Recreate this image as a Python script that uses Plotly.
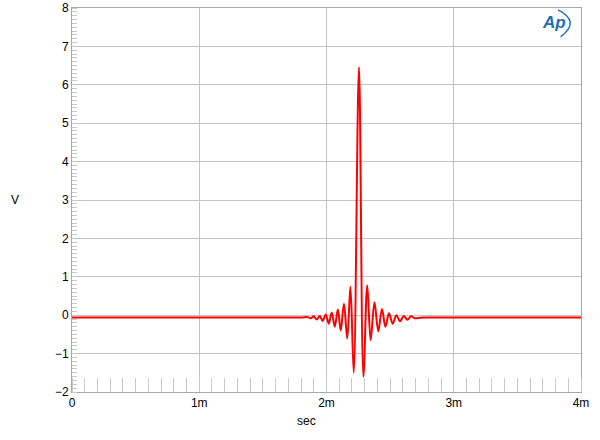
import plotly.graph_objects as go

# Time (ms) and voltage (V): flat baseline, then the ringing impulse
t_ms = [0.0, 0.6, 1.2, 1.6, 1.80, 1.853, 1.876, 1.900, 1.923, 1.947, 1.970, 1.994, 2.018, 2.041, 2.065,
        2.089, 2.112, 2.137, 2.163, 2.188, 2.214, 2.255, 2.290, 2.320, 2.347, 2.377,
        2.407, 2.436, 2.463, 2.491, 2.520, 2.549, 2.578, 2.607, 2.636, 2.665, 2.695, 2.75,
        2.9, 3.3, 3.7, 4.0]
volts = [-0.06, -0.06, -0.06, -0.06, -0.06, -0.05, -0.08, -0.03, -0.11, -0.02, -0.15, 0.02, -0.22, 0.07, -0.30,
         0.15, -0.40, 0.30, -0.61, 0.75, -1.50, 6.46, -1.60, 0.78, -0.65, 0.34,
         -0.42, 0.16, -0.30, 0.05, -0.22, 0.00, -0.16, -0.02, -0.12, -0.03, -0.08, -0.06,
         -0.06, -0.06, -0.06, -0.06]

x_tick_vals = [0, 1, 2, 3, 4]
x_tick_text = ["0", "1m", "2m", "3m", "4m"]
y_tick_vals = [-2, -1, 0, 1, 2, 3, 4, 5, 6, 7, 8]

fig = go.Figure()
fig.add_trace(go.Scatter(x=t_ms, y=volts, mode="lines",
                         line=dict(color="#ff0000", width=2, shape="spline", smoothing=1.0),
                         hoverinfo="skip", showlegend=False))

font = dict(family="Liberation Sans, Arial, sans-serif", size=12, color="#000000")

fig.update_layout(
    width=600, height=440,
    margin=dict(l=72, r=19, t=8, b=48, autoexpand=False),
    paper_bgcolor="white", plot_bgcolor="white",
    font=font,
    xaxis=dict(range=[0, 4], tickvals=x_tick_vals, ticktext=x_tick_text,
               showgrid=True, gridcolor="#c4c4c4", gridwidth=1,
               showline=True, linecolor="#a8a8a8", linewidth=1, mirror=True,
               ticks="", zeroline=False, tickfont=font, automargin=False,
               minor=dict(dtick=0.1, tick0=0, ticks="inside", ticklen=14,
                          tickcolor="#c8c8c8", tickwidth=1, showgrid=False)),
    yaxis=dict(range=[-2, 8], tickvals=y_tick_vals,
               showgrid=True, gridcolor="#c4c4c4", gridwidth=1,
               showline=True, linecolor="#a8a8a8", linewidth=1, mirror=True,
               ticks="", zeroline=False, tickfont=font, automargin=False,
               minor=dict(dtick=0.1, tick0=0, ticks="inside", ticklen=5,
                          tickcolor="#c8c8c8", tickwidth=1, showgrid=False)),
    annotations=[
        dict(text="V", xref="paper", yref="paper", x=-0.112, y=0.50,
             showarrow=False, font=font, xanchor="center", yanchor="middle"),
        dict(text="sec", xref="paper", yref="paper", x=0.46, y=-0.076,
             showarrow=False, font=font, xanchor="center", yanchor="middle"),
        dict(text="<i><b>Ap</b></i>", xref="paper", yref="paper", x=0.947, y=0.962,
             showarrow=False, font=dict(family="Liberation Sans, Arial", size=17, color="#1c6fb8"),
             xanchor="center", yanchor="middle"),
    ],
    shapes=[
        dict(type="path", xref="paper", yref="paper",
             path="M 0.955,0.995 Q 1.0,0.965 0.96,0.925",
             line=dict(color="#1c6fb8", width=1.5)),
    ],
)

fig.write_html("out.html", config={"displayModeBar": False},
               post_script="document.body.style.margin='0';document.body.style.overflow='hidden';")
